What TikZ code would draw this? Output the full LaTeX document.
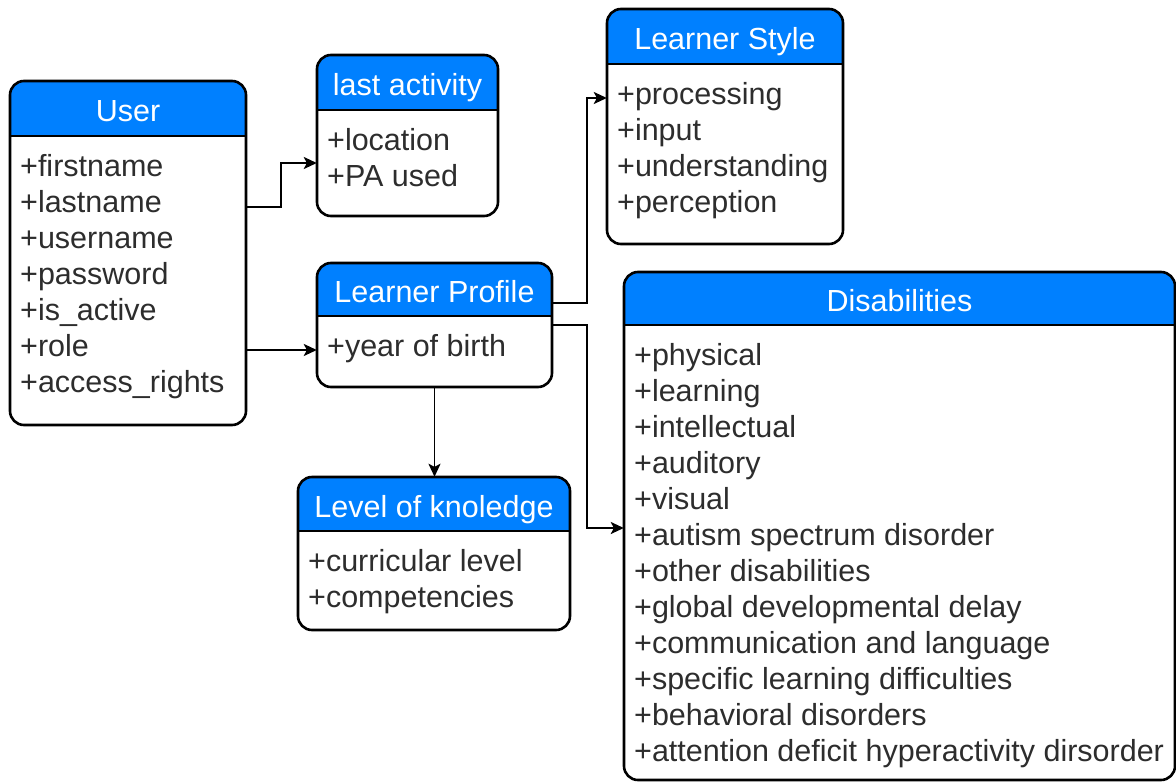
\documentclass[tikz,border=0pt]{standalone}
\usepackage{fontspec}
\setmainfont{Liberation Sans}
\usetikzlibrary{arrows.meta,fit}
\definecolor{hdr}{RGB}{0,128,255}
\definecolor{txt}{RGB}{45,45,45}
\tikzset{
  boxline/.style={line width=2.6pt, black},
  conn/.style={line width=1.8pt, black, -{Stealth[length=13pt,width=12pt,inset=3pt]}},
  titletext/.style={anchor=base, text=white, inner sep=0pt, font=\fontsize{30.5}{36}\selectfont},
  bodytext/.style={anchor=north west, align=left, text=txt, inner sep=0pt, font=\fontsize{30.5}{36}\selectfont},
}
\newcommand\umltab[8]{%
  \fill[white, rounded corners=14pt] (#2,#3) rectangle (#4,#5);
  \begin{scope}
    \clip[rounded corners=14pt] (#2,#3) rectangle (#4,#5);
    \fill[hdr] (#2,#3) rectangle (#4,#6);
  \end{scope}
  \draw[boxline] (#2,#6) -- (#4,#6);
  \draw[boxline, rounded corners=14pt] (#2,#3) rectangle (#4,#5);
  \node[fit={(#2,#3)(#4,#5)}, inner sep=0pt] (#1) {};
  \node[titletext] (#1-title) at ({(#2+#4)/2}, {(#3+#6)/2+13}) {#7};
  \node[bodytext] (#1-body) at ({#2+10},{#6+40-26}) {\rule{0pt}{26pt}#8};
}
\begin{document}
\begin{tikzpicture}[x=1pt,y=-1pt]
\useasboundingbox (0,0) rectangle (1176,782);
\fill[white] (0,0) rectangle (1176,782);

\umltab{user}{10}{81}{246}{425}{136}{User}{+firstname\\+lastname\\+username\\+password\\+is\_active\\+role\\+access\_rights}
\umltab{lastact}{317}{55}{498}{216}{110}{last activity}{+location\\+PA used}
\umltab{lstyle}{607}{9}{843}{244}{64}{Learner Style}{+processing\\+input\\+understanding\\+perception}
\umltab{lprof}{317}{263}{552}{387}{316}{Learner Profile}{+year of birth}
\umltab{level}{298}{477}{570}{630}{531}{Level of knoledge}{+curricular level\\+competencies}
\umltab{dis}{624}{272}{1175}{780}{325}{Disabilities}{+physical\\+learning\\+intellectual\\+auditory\\+visual\\+autism spectrum disorder\\+other disabilities\\+global developmental delay\\+communication and language\\+specific learning difficulties\\+behavioral disorders\\+attention deficit hyperactivity dirsorder}

\draw[conn] (user.east |- 0,207) -- (281,207) |- (lastact.west |- 0,163);
\draw[conn] (user.east |- 0,350) -- (lprof.west |- 0,350);
\draw[conn] (lprof.east |- 0,303) -- (587,303) |- (lstyle.west |- 0,98);
\draw[conn] (lprof.east |- 0,325) -- (587,325) |- (dis.west |- 0,528);
\draw[conn] (lprof.south) -- (lprof.south |- level.north);
\end{tikzpicture}
\end{document}
